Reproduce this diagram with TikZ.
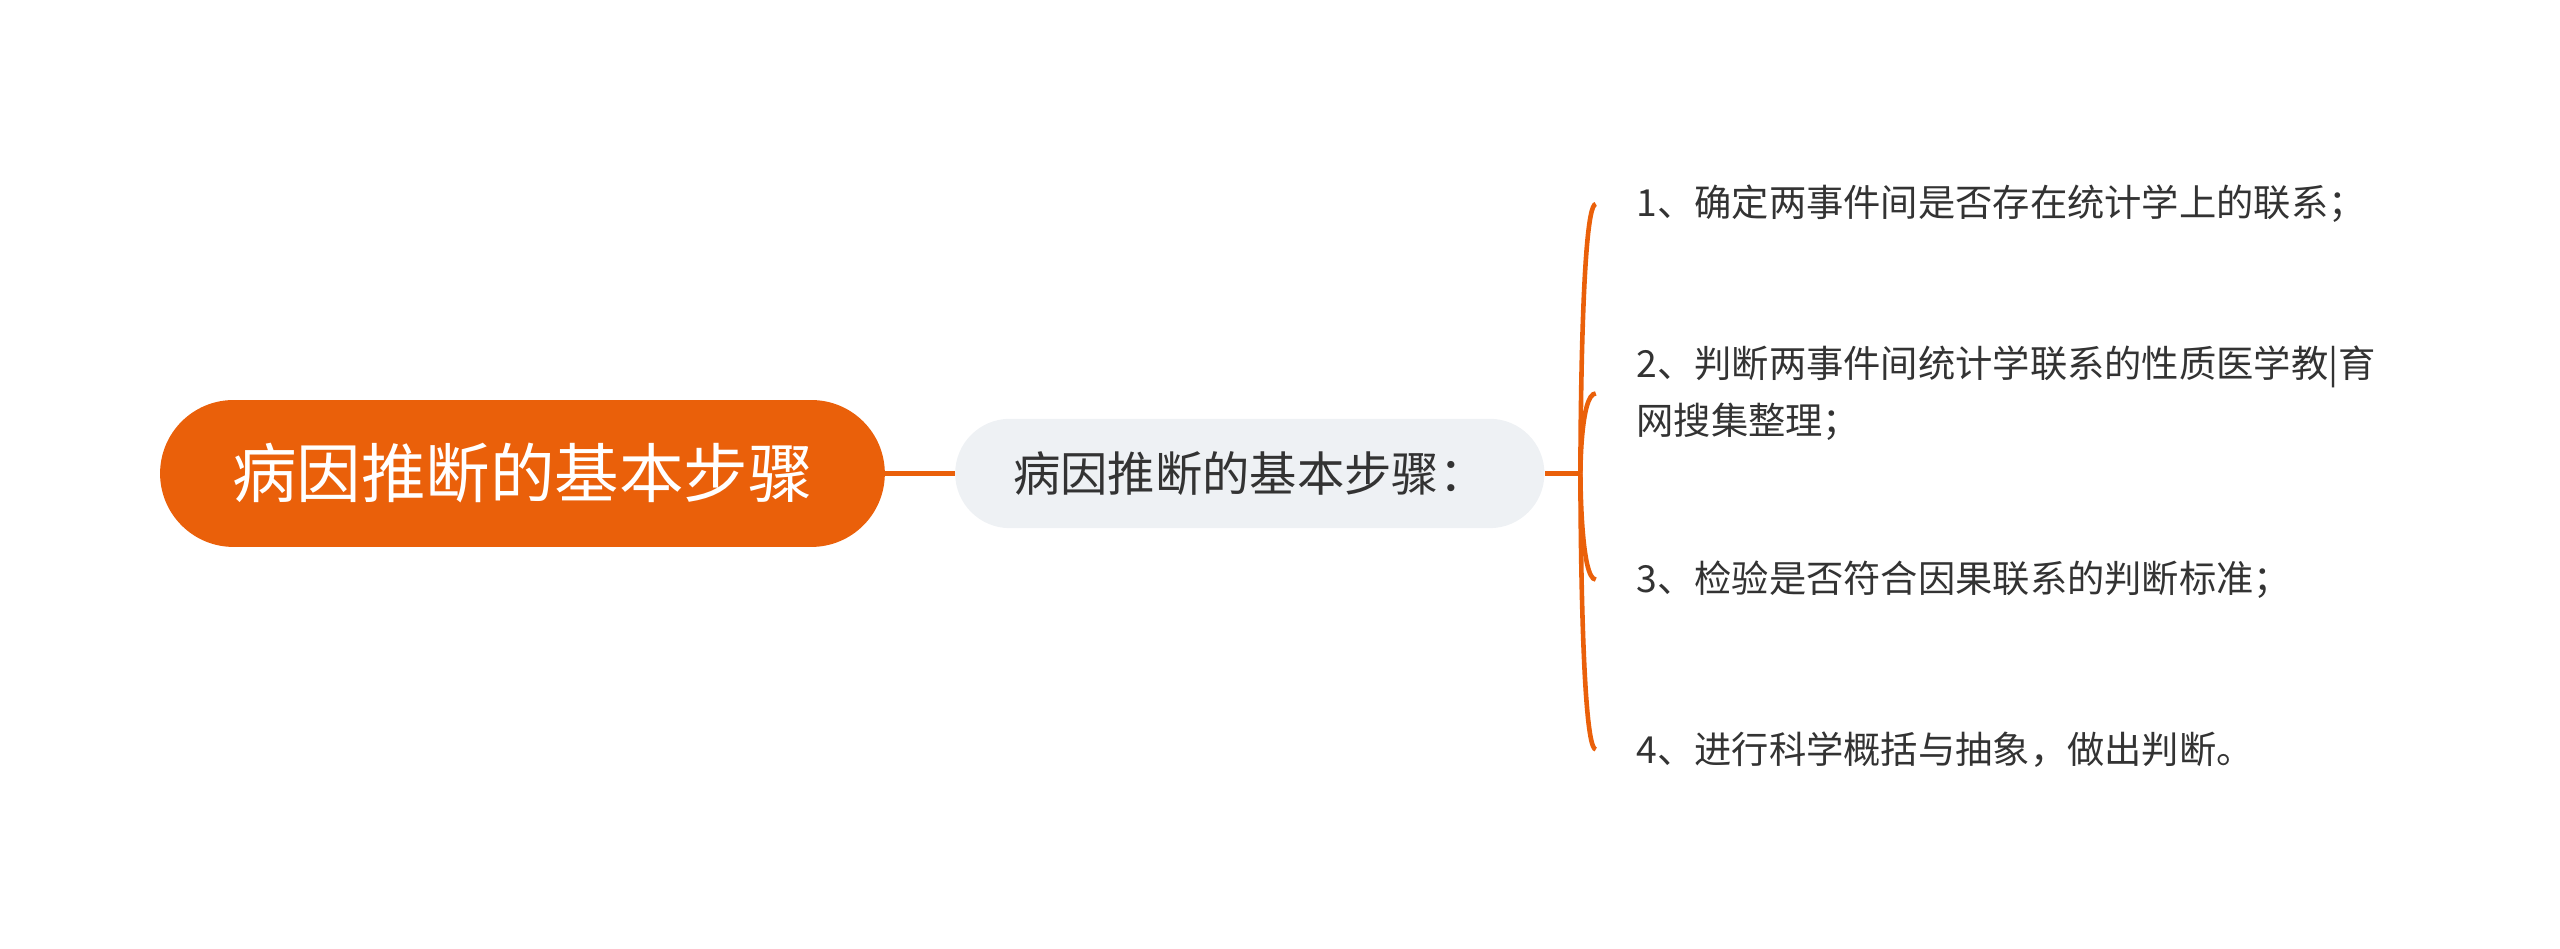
\documentclass[tikz,border=0pt]{standalone}
\usepackage{fontspec}
\setmainfont{Noto Sans CJK SC}
\definecolor{rootorange}{HTML}{EA600A}
\definecolor{midgray}{HTML}{EEF1F4}
\definecolor{txtdark}{HTML}{333333}
\tikzset{
  rootbox/.style={rectangle, rounded corners=0.9cm, fill=rootorange, text=white,
    minimum width=8.88cm, minimum height=1.8cm, font=\fontsize{22.5}{26}\selectfont},
  midbox/.style={rectangle, rounded corners=0.67cm, fill=midgray, text=txtdark,
    minimum width=7.22cm, minimum height=1.34cm, font=\fontsize{16.5}{19}\selectfont},
  leaf/.style={anchor=west, text=txtdark, align=left, inner sep=0pt,
    font=\fontsize{13}{20}\selectfont},
  link/.style={draw=rootorange, line width=1.6pt}
}
\begin{document}
\begin{tikzpicture}[x=0.02cm,y=-0.02cm]
\useasboundingbox (0,0) rectangle (1568,581);

\node[rootbox] (root) at (320,290) {病因推断的基本步骤};
\node[midbox] (mid) at (765.5,290) {病因推断的基本步骤：};

\node[leaf] (l1) at (1002,125) {1、确定两事件间是否存在统计学上的联系；};
\node[leaf] (l2) at (1002,241) {2、判断两事件间统计学联系的性质医学教|育\\网搜集整理；};
\node[leaf] (l3) at (1002,355) {3、检验是否符合因果联系的判断标准；};
\node[leaf] (l4) at (1002,459) {4、进行科学概括与抽象，做出判断。};

\coordinate (fork) at (968,290);
\draw[link] (root.east) -- (mid.west);
\draw[link] (mid.east) -- (fork);
\foreach \n in {l1,l2,l3,l4}
  \draw[link] (fork) .. controls (968,290) and (968,0 |- \n.west) .. ([xshift=-14pt]\n.west);
\end{tikzpicture}
\end{document}
